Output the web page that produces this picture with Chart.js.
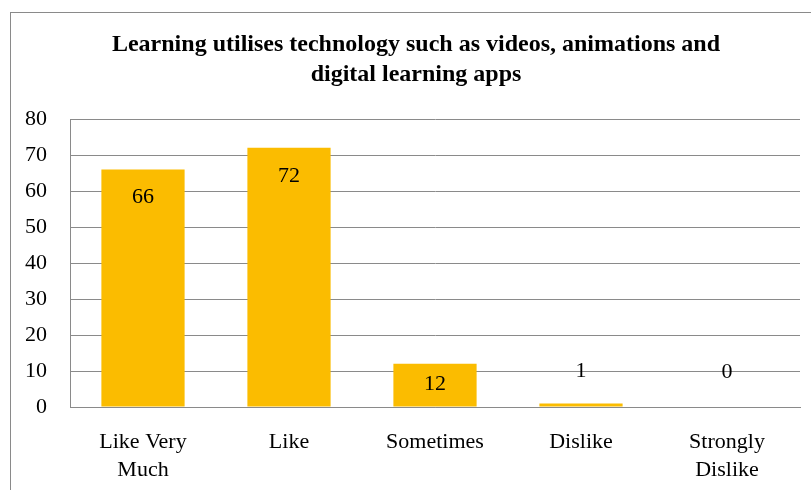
<!DOCTYPE html>
<html lang="en">
<head>
    <meta charset="UTF-8">
    <title>Learning utilises technology</title>
    <script src="https://cdn.jsdelivr.net/npm/chart.js"></script>
    <style>
        body { margin: 0; background: #fff; }
        #wrap { position: relative; width: 811px; height: 490px; }
        #frame { position: absolute; left: 10px; top: 12px; right: 0; bottom: 0;
                 border-left: 1px solid #8a8a8a; border-top: 1px solid #8a8a8a; }
        canvas { position: absolute; left: 0; top: 0; }
    </style>
</head>
<body>
    <div id="wrap">
        <div id="frame"></div>
        <canvas id="chart" width="811" height="490"></canvas>
    </div>

    <script>
        const titleLines = ['Learning utilises technology such as videos, animations and', 'digital learning apps'];
        const categories = [['Like Very', 'Much'], 'Like', 'Sometimes', 'Dislike', ['Strongly', 'Dislike']];
        const responses = [66, 72, 12, 1, 0];
        const yTicks = [0, 10, 20, 30, 40, 50, 60, 70, 80];

        const serif = "'Liberation Serif', 'DejaVu Serif', serif";

        // title sits a little right of the canvas centre, like the original
        const chartTitle = {
            id: 'chartTitle',
            afterDraw(chart) {
                const ctx = chart.ctx;
                ctx.save();
                ctx.font = 'bold 24px ' + serif;
                ctx.fillStyle = '#000';
                ctx.textAlign = 'center';
                ctx.textBaseline = 'middle';
                titleLines.forEach((line, i) => ctx.fillText(line, 416, 45 + i * 30));
                ctx.restore();
            }
        };

        // value labels: inside the top of tall bars, above short ones
        const valueLabels = {
            id: 'valueLabels',
            afterDatasetsDraw(chart) {
                const ctx = chart.ctx;
                const meta = chart.getDatasetMeta(0);
                ctx.save();
                ctx.font = '22px ' + serif;
                ctx.fillStyle = '#000';
                ctx.textAlign = 'center';
                ctx.textBaseline = 'middle';
                meta.data.forEach((bar, i) => {
                    const h = bar.base - bar.y;
                    const y = h > 30 ? bar.y + (h > 100 ? 28 : 20) : bar.base - 35;
                    ctx.fillText(responses[i], bar.x, y);
                });
                ctx.restore();
            }
        };

        new Chart(document.getElementById('chart'), {
            type: 'bar',
            data: {
                labels: categories,
                datasets: [{
                    data: responses,
                    backgroundColor: '#FBBC00',
                    categoryPercentage: 1,
                    barPercentage: 0.57
                }]
            },
            options: {
                responsive: false,
                animation: false,
                layout: { padding: { top: 119, right: 11, bottom: 0, left: 0 } },
                plugins: {
                    legend: { display: false },
                    tooltip: { enabled: false },
                    title: { display: false }
                },
                scales: {
                    x: {
                        grid: { display: false, drawTicks: false },
                        border: { display: true, color: '#8a8a8a' },
                        ticks: { color: '#000', font: { family: serif, size: 22, lineHeight: 1.27 }, padding: 21, maxRotation: 0 },
                        afterFit(scale) { scale.height = 83; }
                    },
                    y: {
                        min: 0,
                        max: 80,
                        afterBuildTicks(scale) { scale.ticks = yTicks.map(v => ({ value: v })); },
                        grid: { color: '#8a8a8a', drawTicks: false },
                        border: { display: true, color: '#8a8a8a' },
                        ticks: { color: '#000', font: { family: serif, size: 22 }, padding: 23 },
                        afterFit(scale) { scale.width = 70; }
                    }
                }
            },
            plugins: [valueLabels, chartTitle]
        });
    </script>
</body>
</html>
